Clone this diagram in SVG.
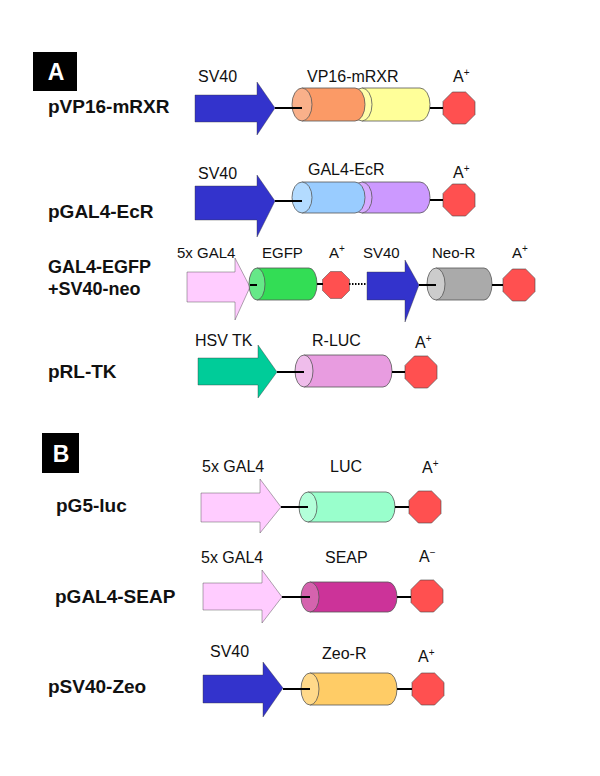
<svg xmlns="http://www.w3.org/2000/svg" width="600" height="776" viewBox="0 0 600 776">
<style>
.lbl{font-family:"Liberation Sans",Arial,sans-serif;font-weight:bold;font-size:19px;fill:#111}
.sm{font-family:"Liberation Sans",Arial,sans-serif;font-size:16px;fill:#111}
.sm3{font-size:15px}
.sup{font-size:10px}
.box{fill:#000}
.boxt{font-family:"Liberation Sans",Arial,sans-serif;font-weight:bold;font-size:23px;fill:#fff;text-anchor:middle}
.cyl{stroke:#555;stroke-width:0.8}
.oct{fill:#FF5050;stroke:#444;stroke-width:0.6}
.arr{stroke:#333;stroke-width:0.4}
.ln{stroke:#000;stroke-width:2;fill:none}
.dot{stroke:#000;stroke-width:2;stroke-dasharray:1.5 1.5;fill:none}
</style>
<defs>
<polygon id="oct" points="-6.6,-16 6.6,-16 16,-6.6 16,6.6 6.6,16 -6.6,16 -16,6.6 -16,-6.6"/>
</defs>
<rect width="600" height="776" fill="#fff"/>

<g id="panelA">
<rect class="box" x="33" y="52" width="44" height="39"/>
<text class="boxt" x="56" y="80">A</text>
</g>
<g id="panelB">
<rect class="box" x="42" y="433" width="37" height="40"/>
<text class="boxt" x="61" y="462">B</text>
</g>

<!-- Row 1 -->
<g id="row1">
<text class="lbl" x="48" y="113">pVP16-mRXR</text>
<g id="r1-promoter">
<text class="sm" x="198" y="82">SV40</text>
<polygon class="arr" fill="#3333CC" points="195,95 257,95 257,82 275,108 257,135 257,122 195,122"/>
</g>
<g id="r1-gene">
<text class="sm" x="307" y="82">VP16-mRXR</text>
<path class="cyl" fill="#FFFF99" d="M362,88 H420 A10 16.5 0 0 1 420,121 H362 Z"/>
<ellipse class="cyl" fill="#FFFFAA" cx="362" cy="104.5" rx="10" ry="16.5"/>
<path class="cyl" fill="#FB9A66" d="M302,88 H355 A10 16.5 0 0 1 355,121 H302 Z"/>
<ellipse class="cyl" fill="#F9B08A" cx="302" cy="104.5" rx="10" ry="16.5"/>
</g>
<g id="r1-polyA">
<text class="sm" x="453" y="82">A<tspan class="sup" dy="-6">+</tspan></text>
<use href="#oct" class="oct" transform="translate(459,108)"/>
</g>
</g>

<!-- Row 2 -->
<g id="row2">
<text class="lbl" x="48" y="218">pGAL4-EcR</text>
<g id="r2-promoter">
<text class="sm" x="198" y="179">SV40</text>
<polygon class="arr" fill="#3333CC" points="195,186 257,186 257,175 275,201 257,237 257,220 195,220"/>
</g>
<g id="r2-gene">
<text class="sm" x="308" y="175">GAL4-EcR</text>
<path class="cyl" fill="#CC99FF" d="M362,182 H420 A10 15.5 0 0 1 420,213 H362 Z"/>
<ellipse class="cyl" fill="#D6AAFF" cx="362" cy="197.5" rx="10" ry="15.5"/>
<path class="cyl" fill="#99CCFF" d="M302,182 H355 A10 15.5 0 0 1 355,213 H302 Z"/>
<ellipse class="cyl" fill="#B3DBFF" cx="302" cy="197.5" rx="10" ry="15.5"/>
</g>
<g id="r2-polyA">
<text class="sm" x="453" y="178">A<tspan class="sup" dy="-6">+</tspan></text>
<use href="#oct" class="oct" transform="translate(459,200)"/>
</g>
</g>

<!-- Row 3 -->
<g id="row3">
<text class="lbl" x="48" y="273" style="font-size:18px">GAL4-EGFP</text>
<text class="lbl" x="48" y="295" style="font-size:18px">+SV40-neo</text>
<g id="r3-promoter1">
<text class="sm sm3" x="177" y="258">5x GAL4</text>
<polygon class="arr" fill="#FFCCFF" points="187,272 235,272 235,258 250,287 235,320 235,302 187,302"/>
</g>
<g id="r3-gene1">
<text class="sm sm3" x="262" y="258">EGFP</text>
<path class="cyl" fill="#33DD55" d="M257,268 H309 A8 16 0 0 1 309,300 H257 Z"/>
<ellipse class="cyl" fill="#66E888" cx="257" cy="284" rx="8" ry="16"/>
</g>
<g id="r3-polyA1">
<text class="sm sm3" x="329" y="258">A<tspan class="sup" dy="-6">+</tspan></text>
<use href="#oct" class="oct" transform="translate(336,285) scale(0.84)"/>
</g>
<g id="r3-promoter2">
<text class="sm sm3" x="363" y="258">SV40</text>
<polygon class="arr" fill="#3333CC" points="367,272 405,272 405,260 419,285 405,322 405,300 367,300"/>
</g>
<g id="r3-gene2">
<text class="sm sm3" x="432" y="258">Neo-R</text>
<path class="cyl" fill="#AAAAAA" d="M436,268 H484 A8 16 0 0 1 484,300 H436 Z"/>
<ellipse class="cyl" fill="#CCCCCC" cx="436" cy="284" rx="9" ry="16"/>
</g>
<g id="r3-polyA2">
<text class="sm sm3" x="512" y="258">A<tspan class="sup" dy="-6">+</tspan></text>
<use href="#oct" class="oct" transform="translate(519,285)"/>
</g>
</g>

<!-- Row 4 -->
<g id="row4">
<text class="lbl" x="48" y="378">pRL-TK</text>
<g id="r4-promoter">
<text class="sm" x="195" y="346">HSV TK</text>
<polygon class="arr" fill="#00CC99" points="198,358 258,358 258,345 277,372 258,398 258,385 198,385"/>
</g>
<g id="r4-gene">
<text class="sm" x="312" y="346">R-LUC</text>
<path class="cyl" fill="#E89CE0" d="M304,355 H383 A9 16 0 0 1 383,387 H304 Z"/>
<ellipse class="cyl" fill="#EFBDEB" cx="304" cy="371" rx="9" ry="16"/>
</g>
<g id="r4-polyA">
<text class="sm" x="415" y="348">A<tspan class="sup" dy="-6">+</tspan></text>
<use href="#oct" class="oct" transform="translate(421,372)"/>
</g>
</g>

<!-- Row 5 -->
<g id="row5">
<text class="lbl" x="56" y="512">pG5-luc</text>
<g id="r5-promoter">
<text class="sm" x="202" y="472">5x GAL4</text>
<polygon class="arr" fill="#FFCCFF" points="201,493 260,493 260,479 281,507 260,533 260,522 201,522"/>
</g>
<g id="r5-gene">
<text class="sm" x="330" y="472">LUC</text>
<path class="cyl" fill="#99FFCC" d="M308,492 H386 A9 15 0 0 1 386,522 H308 Z"/>
<ellipse class="cyl" fill="#B3FFD9" cx="308" cy="507" rx="9" ry="15"/>
</g>
<g id="r5-polyA">
<text class="sm" x="422" y="473">A<tspan class="sup" dy="-6">+</tspan></text>
<use href="#oct" class="oct" transform="translate(425,507)"/>
</g>
</g>

<!-- Row 6 -->
<g id="row6">
<text class="lbl" x="55" y="603">pGAL4-SEAP</text>
<g id="r6-promoter">
<text class="sm" x="201" y="563">5x GAL4</text>
<polygon class="arr" fill="#FFCCFF" points="203,583 262,583 262,570 282,597 262,623 262,610 203,610"/>
</g>
<g id="r6-gene">
<text class="sm" x="325" y="563">SEAP</text>
<path class="cyl" fill="#CC3399" d="M310,582 H388 A9 15 0 0 1 388,612 H310 Z"/>
<ellipse class="cyl" fill="#D563AE" cx="310" cy="597" rx="9" ry="15"/>
</g>
<g id="r6-polyA">
<text class="sm" x="419" y="562">A<tspan class="sup" dy="-6">−</tspan></text>
<use href="#oct" class="oct" transform="translate(427,596)"/>
</g>
</g>

<!-- Row 7 -->
<g id="row7">
<text class="lbl" x="48" y="693">pSV40-Zeo</text>
<g id="r7-promoter">
<text class="sm" x="210" y="657">SV40</text>
<polygon class="arr" fill="#3333CC" points="203,675 263,675 263,662 283,688 263,717 263,703 203,703"/>
</g>
<g id="r7-gene">
<text class="sm" x="322" y="659">Zeo-R</text>
<path class="cyl" fill="#FFCC66" d="M310,673 H388 A9 16 0 0 1 388,705 H310 Z"/>
<ellipse class="cyl" fill="#FFD98A" cx="310" cy="689" rx="9" ry="16"/>
</g>
<g id="r7-polyA">
<text class="sm" x="418" y="662">A<tspan class="sup" dy="-6">+</tspan></text>
<use href="#oct" class="oct" transform="translate(428,689)"/>
</g>
</g>

<g id="connectors">
<line class="ln" x1="275" y1="108" x2="302" y2="108"/>
<line class="ln" x1="430" y1="108" x2="443" y2="108"/>
<line class="ln" x1="275" y1="201" x2="302" y2="201"/>
<line class="ln" x1="430" y1="200" x2="443" y2="200"/>
<line class="ln" x1="250" y1="285" x2="257" y2="285"/>
<line class="ln" x1="317" y1="284" x2="323" y2="284"/>
<line class="dot" x1="349" y1="284" x2="366" y2="284"/>
<line class="ln" x1="419" y1="285" x2="436" y2="285"/>
<line class="ln" x1="492" y1="285" x2="503" y2="285"/>
<line class="ln" x1="277" y1="372" x2="304" y2="372"/>
<line class="ln" x1="392" y1="372" x2="405" y2="372"/>
<line class="ln" x1="281" y1="507" x2="308" y2="507"/>
<line class="ln" x1="395" y1="507" x2="409" y2="507"/>
<line class="ln" x1="282" y1="597" x2="310" y2="597"/>
<line class="ln" x1="397" y1="597" x2="411" y2="597"/>
<line class="ln" x1="283" y1="689" x2="310" y2="689"/>
<line class="ln" x1="397" y1="689" x2="412" y2="689"/>
</g>
</svg>
